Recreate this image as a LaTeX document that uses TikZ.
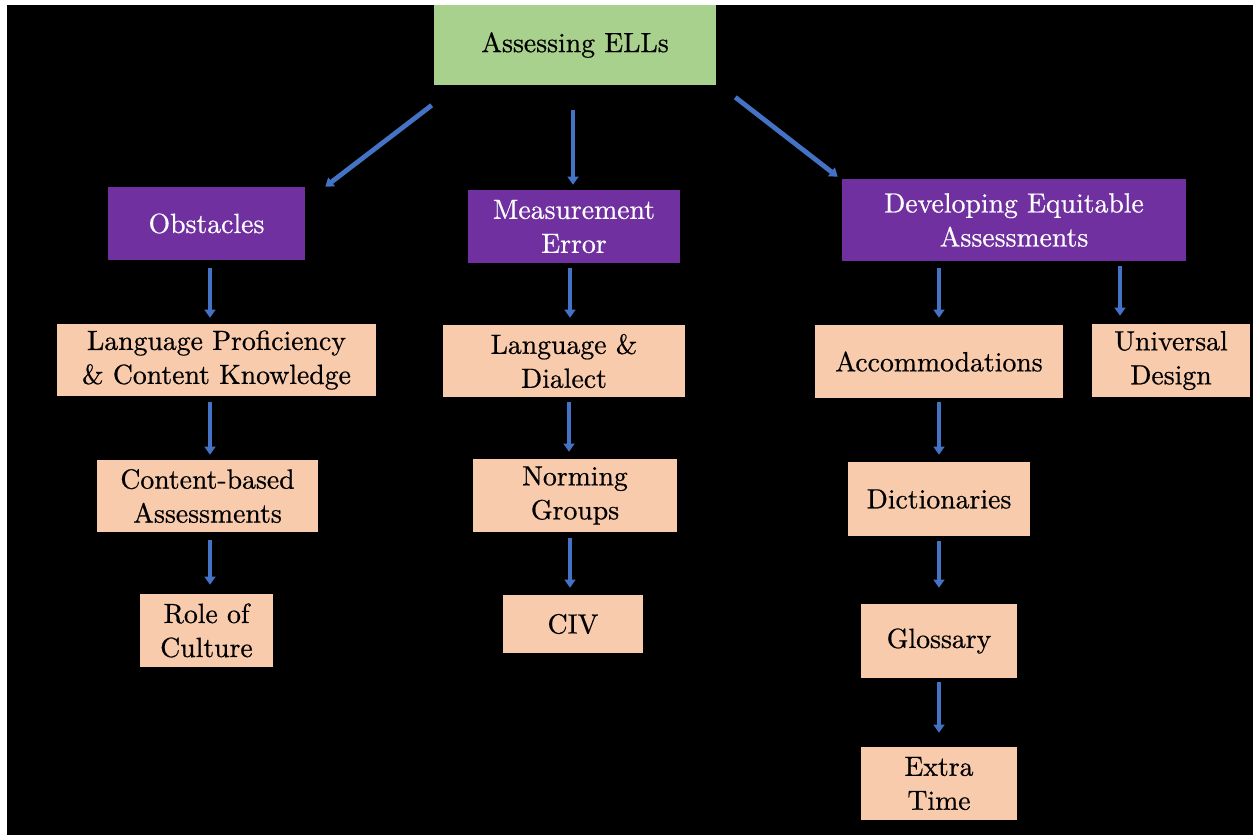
\documentclass[tikz,border=0pt]{standalone}
\usepackage{fontspec}
\newfontfamily\boxfont{lmroman10-regular.otf}[FakeBold=0.6]
\usetikzlibrary{arrows.meta,calc}

\definecolor{rootgreen}{HTML}{A9D18E}
\definecolor{catpurple}{HTML}{7030A0}
\definecolor{itempeach}{HTML}{F8CBAD}
\definecolor{linkblue}{HTML}{4472C4}

% box given by its pixel corners (x1,y1)-(x2,y2)
\newcommand\pbox[7]{%
  \node[#6, minimum width={(#4-#2)*0.75pt}, minimum height={(#5-#3)*0.75pt}]
    (#1) at ({(#2+#4)/2},{(#3+#5)/2}) {#7};}
% vertical link at x, with gaps g1 below the source and g2 above the target
\newcommand\vlink[5]{%
  \draw[link] ($(#1.south -| #3,0)+(0,#4)$) -- ($(#2.north -| #3,0)-(0,#5)$);}

\begin{document}
\begin{tikzpicture}[x=0.75pt,y=-0.75pt,
  boxbase/.style={inner sep=0pt, align=center, font=\boxfont\fontsize{20.8}{25.5}\selectfont},
  rootbox/.style={boxbase, fill=rootgreen, text=black},
  catbox/.style={boxbase, fill=catpurple, text=white},
  itembox/.style={boxbase, fill=itempeach, text=black},
  link/.style={draw=linkblue, line width=3.6pt,
    -{Triangle[length=6pt,width=8pt]}}]

\useasboundingbox (0,0) rectangle (1253,835);
\fill[white] (0,0) rectangle (1253,835);
\fill[black] (7,5) rectangle (1253,835);

% top
\pbox{root}{434}{5}{716}{85}{rootbox}{Assessing ELLs}

% categories
\pbox{obs}{108}{187}{305}{260}{catbox}{Obstacles}
\pbox{meas}{468}{190}{680}{263}{catbox}{Measurement\\Error}
\pbox{dev}{842}{179}{1186}{261}{catbox}{Developing Equitable\\Assessments}

% obstacles column
\pbox{lp}{57}{324}{376}{396}{itembox}{Language Proficiency\\\& Content Knowledge}
\pbox{cb}{97}{460}{318}{532}{itembox}{Content-based\\Assessments}
\pbox{role}{140}{594}{273}{667}{itembox}{Role of\\Culture}

% measurement column
\pbox{ld}{443}{325}{685}{397}{itembox}{Language \&\\Dialect}
\pbox{ng}{473}{459}{677}{532}{itembox}{Norming\\Groups}
\pbox{civ}{503}{595}{643}{653}{itembox}{CIV}

% equitable assessments column
\pbox{acc}{815}{325}{1063}{398}{itembox}{Accommodations}
\pbox{ud}{1092}{324}{1250}{397}{itembox}{Universal\\Design}
\pbox{dict}{848}{462}{1030}{536}{itembox}{Dictionaries}
\pbox{gloss}{861}{604}{1017}{678}{itembox}{Glossary}
\pbox{extra}{861}{747}{1017}{820}{itembox}{Extra\\Time}

% links from the top box
\draw[link] ($(root.south west)+(-2,20)$) -- ($(obs.north east)+(20,0)$);
\draw[link] ($(root.south -| 573,0)+(0,25)$) -- ($(meas.north -| 573,0)-(0,5)$);
\draw[link] ($(root.south east)+(19,12)$) -- ($(dev.north west)+(-4,-2)$);

% column links
\vlink{obs}{lp}{210}{8}{6}
\vlink{lp}{cb}{210}{6}{5}
\vlink{cb}{role}{210}{8}{9}
\vlink{meas}{ld}{570}{5}{7}
\vlink{ld}{ng}{569}{5}{7}
\vlink{ng}{civ}{570}{6}{7}
\vlink{dev}{acc}{939}{7}{7}
\vlink{dev}{ud}{1120}{5}{8}
\vlink{acc}{dict}{939}{4}{7}
\vlink{dict}{gloss}{939}{5}{16}
\vlink{gloss}{extra}{939}{4}{14}

\end{tikzpicture}
\end{document}
